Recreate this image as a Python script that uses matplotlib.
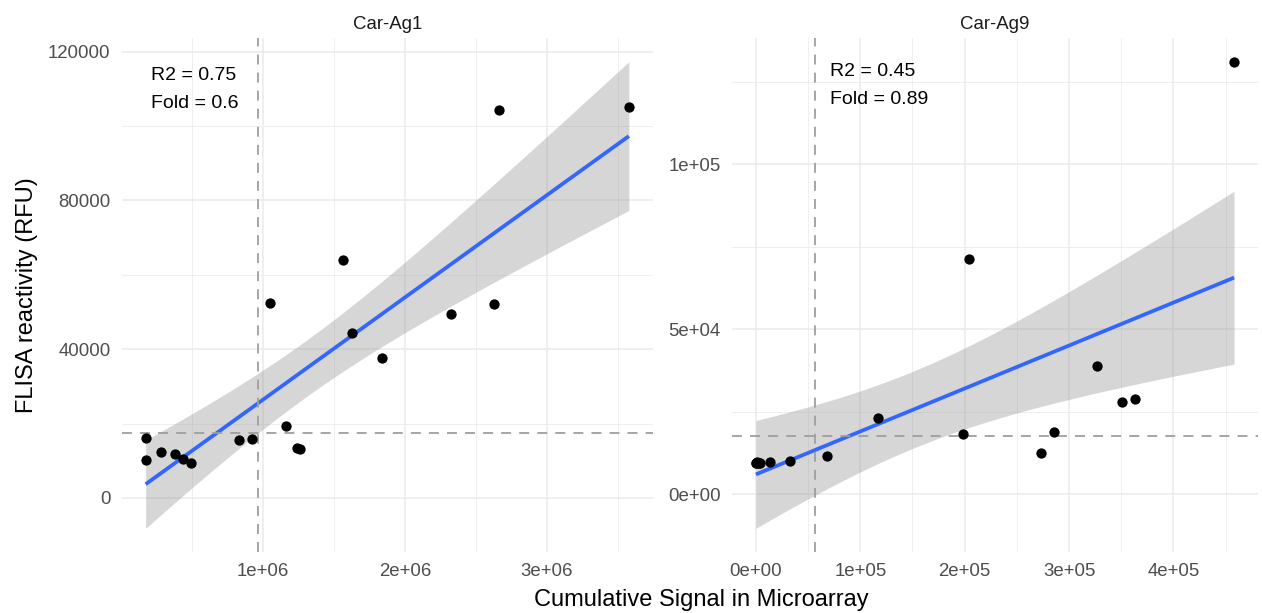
import numpy as np
import matplotlib
matplotlib.use("Agg")
import matplotlib.pyplot as plt
from matplotlib.ticker import FixedLocator, FuncFormatter

plt.rcParams["font.family"] = ["Liberation Sans", "DejaVu Sans"]

### DATA ###
ag1_signal = [0.174e6, 0.172e6, 0.283e6, 0.376e6, 0.438e6, 0.491e6, 0.829e6, 0.922e6,
              1.050e6, 1.159e6, 1.236e6, 1.257e6, 1.564e6, 1.624e6, 1.835e6, 2.326e6,
              2.629e6, 2.661e6, 3.577e6]
ag1_elisa = [16180, 10100, 12320, 11710, 10370, 9300, 15460, 15910,
             52510, 19290, 13320, 13050, 63950, 44470, 37620, 49480,
             52160, 104400, 105020]

# several samples sit on top of each other near zero
ag9_signal = [0, 500, 1000, 2000, 2500, 3500, 13800, 32400, 68400, 117000, 198100,
              204500, 273500, 285600, 326400, 350700, 363100, 458200]
ag9_elisa = [9550, 9500, 9600, 9550, 9500, 9550, 9670, 9970, 11660, 23140, 18310,
             71180, 12480, 18910, 38760, 27790, 28700, 131000]

panel_titles = ["Car-Ag1", "Car-Ag9"]
r2_labels = ["R2 = 0.75", "R2 = 0.45"]
fold_labels = ["Fold = 0.6", "Fold = 0.89"]
signal_cutoffs = [0.967e6, 56400]
elisa_cutoff = 17500
t_quantiles = {17: 2.109816, 16: 2.119905, 12: 2.178813}   # t(0.975, df)
#####################

GRID = "#EBEBEB"
W, H = 1262, 613


def lm_band(x, y, n_grid=80):
    x = np.asarray(x, float)
    y = np.asarray(y, float)
    n = len(x)
    slope, intercept = np.polyfit(x, y, 1)
    resid = y - (intercept + slope * x)
    s = np.sqrt(np.sum(resid ** 2) / (n - 2))
    xg = np.linspace(x.min(), x.max(), n_grid)
    fit = intercept + slope * xg
    se = s * np.sqrt(1 / n + (xg - x.mean()) ** 2 / np.sum((x - x.mean()) ** 2))
    tq = t_quantiles[n - 2]
    return xg, fit, fit - tq * se, fit + tq * se


def expand(lo, hi, frac=0.05):
    pad = (hi - lo) * frac
    return lo - pad, hi + pad


fig = plt.figure(figsize=(W / 100, H / 100), dpi=100)
ax1 = fig.add_axes([121.5 / W, 1 - 551.6 / H, (653 - 121.5) / W, (551.6 - 38.4) / H])
ax2 = fig.add_axes([732 / W, 1 - 551.6 / H, (1258 - 732) / W, (551.6 - 38.4) / H])

panels = [
    (ax1, ag1_signal, ag1_elisa, [1e6, 2e6, 3e6], [0, 40000, 80000, 120000],
     lambda v, p: f"{v:.0e}", lambda v, p: f"{v:.0f}"),
    (ax2, ag9_signal, ag9_elisa, [0, 1e5, 2e5, 3e5, 4e5], [0, 5e4, 1e5],
     lambda v, p: f"{v:.0e}", lambda v, p: f"{v:.0e}"),
]
text_pos = [(151, 76, 104), (830, 72, 100)]

for i, (ax, xs, ys, xmaj, ymaj, xfmt, yfmt) in enumerate(panels):
    xg, fit, lo, hi = lm_band(xs, ys)

    xlim = expand(min(xs), max(xs))
    ylim = expand(min(min(ys), lo.min()), max(max(ys), hi.max()))
    ax.set_xlim(xlim)
    ax.set_ylim(ylim)

    # grid: majors plus minor lines half way between
    xstep = xmaj[1] - xmaj[0]
    ystep = ymaj[1] - ymaj[0]
    xminor = [v + xstep / 2 for v in np.arange(xmaj[0] - 2 * xstep, xlim[1] + xstep, xstep)]
    yminor = [v + ystep / 2 for v in np.arange(ymaj[0] - 2 * ystep, ylim[1] + ystep, ystep)]
    ax.xaxis.set_major_locator(FixedLocator(xmaj))
    ax.yaxis.set_major_locator(FixedLocator(ymaj))
    ax.xaxis.set_minor_locator(FixedLocator(xminor))
    ax.yaxis.set_minor_locator(FixedLocator(yminor))
    ax.xaxis.set_major_formatter(FuncFormatter(xfmt))
    ax.yaxis.set_major_formatter(FuncFormatter(yfmt))
    ax.grid(which="major", color=GRID, lw=1.1, zorder=0)
    ax.grid(which="minor", color=GRID, lw=0.55, zorder=0)
    ax.set_axisbelow(True)
    for sp in ax.spines.values():
        sp.set_visible(False)
    ax.tick_params(which="both", length=0, labelsize=13.4, labelcolor="#4D4D4D", pad=8)

    ax.fill_between(xg, lo, hi, color="#999999", alpha=0.4, lw=0, zorder=2)
    ax.plot(xg, fit, color="#3366FF", lw=2.7, zorder=3, solid_capstyle="butt")
    ax.scatter(xs, ys, s=55, color="black", lw=0, zorder=4)

    ax.axvline(signal_cutoffs[i], color="#9E9E9E", lw=1.3, ls=(0, (5.5, 4.5)), zorder=3)
    ax.axhline(elisa_cutoff, color="#9E9E9E", lw=1.3, ls=(0, (5.5, 4.5)), zorder=3)

    tx, ty1, ty2 = text_pos[i]
    fig.text(tx / W, 1 - ty1 / H, r2_labels[i], ha="left", va="center", fontsize=14)
    fig.text(tx / W, 1 - ty2 / H, fold_labels[i], ha="left", va="center", fontsize=14)

    ax.set_title(panel_titles[i], fontsize=13.4, color="#1A1A1A", pad=7)

fig.text(701 / W, 1 - 606 / H, "Cumulative Signal in Microarray",
         ha="center", va="baseline", fontsize=17)
fig.text(27 / W, 1 - 295 / H, "FLISA reactivity (RFU)",
         ha="center", va="center", rotation=90, fontsize=17)

fig.savefig("out.png", dpi=100, facecolor="white")
